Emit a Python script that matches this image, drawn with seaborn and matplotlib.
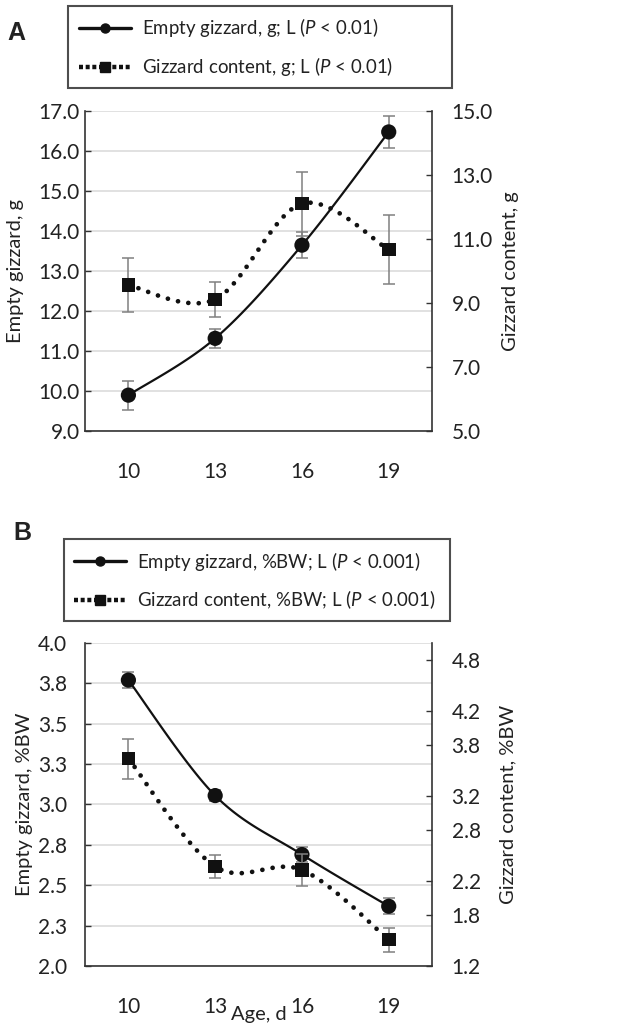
import numpy as np
import matplotlib
matplotlib.use("Agg")
import matplotlib.pyplot as plt
import seaborn as sns
from matplotlib.lines import Line2D

# datos (edad en dias)
ages = ["10", "13", "16", "19"]

# Panel A: gramos
empty_g = [9.90, 11.32, 13.65, 16.48]
empty_g_se = [0.36, 0.24, 0.33, 0.39]
content_g = [9.56, 9.12, 12.11, 10.67]
content_g_se = [0.84, 0.55, 1.00, 1.08]

# Panel B: % del peso corporal
empty_bw = [3.77, 3.055, 2.69, 2.37]
empty_bw_se = [0.05, 0.035, 0.045, 0.05]
content_bw = [3.64, 2.37, 2.33, 1.51]
content_bw_se = [0.235, 0.135, 0.185, 0.14]

# ejes
a_left_ticks = [9, 10, 11, 12, 13, 14, 15, 16, 17]
a_right_ticks = [5, 7, 9, 11, 13, 15]
b_left_ticks = [2.0, 2.25, 2.5, 2.75, 3.0, 3.25, 3.5, 3.75, 4.0]
b_left_labels = ["2.0", "2.3", "2.5", "2.8", "3.0", "3.3", "3.5", "3.8", "4.0"]
b_right_ticks = [1.2, 1.8, 2.2, 2.8, 3.2, 3.8, 4.2, 4.8]

labels_a = ["Empty gizzard, g; L ($P$ < 0.01)",
            "Gizzard content, g; L ($P$ < 0.01)"]
labels_b = ["Empty gizzard, %BW; L ($P$ < 0.001)",
            "Gizzard content, %BW; L ($P$ < 0.001)"]

sns.set_style("white")
plt.rcParams['font.family'] = ['Lato', 'DejaVu Sans']
plt.rcParams['mathtext.fontset'] = 'custom'
plt.rcParams['mathtext.rm'] = 'Lato'
plt.rcParams['mathtext.it'] = 'Lato:italic'

TXT = '#222222'
GRID = '#d9d9d9'
ERR = '#808080'


def excel_smooth(x, y, n=40):
    # curva suavizada estilo Excel (bezier tipo Catmull-Rom)
    pts = np.column_stack([x, y]).astype(float)
    t = np.linspace(0, 1, n)[:, None]
    out = []
    for i in range(len(pts) - 1):
        p0, p3 = pts[i], pts[i + 1]
        prev = pts[i - 1] if i > 0 else pts[i]
        nxt = pts[i + 2] if i + 2 < len(pts) else pts[i + 1]
        c1 = p0 + (p3 - prev) / 6
        c2 = p3 - (nxt - p0) / 6
        seg = ((1 - t) ** 3) * p0 + 3 * ((1 - t) ** 2) * t * c1 \
            + 3 * (1 - t) * t ** 2 * c2 + t ** 3 * p3
        out.append(seg if i == 0 else seg[1:])
    out = np.vstack(out)
    return out[:, 0], out[:, 1]


def draw_panel(ax, left, left_se, right, right_se, lticks, lticklabels,
               lylim, rticks, rylim, ylab_l, ylab_r, lpad, lab_l_x, lab_r_x):
    x = np.arange(len(ages))
    ax2 = ax.twinx()

    # linea solida (eje izquierdo)
    sx, sy = excel_smooth(x, left)
    sns.lineplot(x=sx, y=sy, ax=ax, color='#111111', lw=1.6, sort=False,
                 estimator=None, zorder=3)
    ax.errorbar(x, left, yerr=left_se, fmt='none', ecolor=ERR,
                elinewidth=1.1, capsize=4.3, capthick=1.1, zorder=2)
    sns.scatterplot(x=x, y=left, ax=ax, marker='o', s=120, color='#111111',
                    edgecolor='none', zorder=4)

    # linea punteada (eje derecho)
    dx, dy = excel_smooth(x, right)
    sns.lineplot(x=dx, y=dy, ax=ax2, color='#111111', lw=3.4, sort=False,
                 estimator=None, linestyle=(0, (0.01, 2.2)),
                 dash_capstyle='round', zorder=3)
    ax2.errorbar(x, right, yerr=right_se, fmt='none', ecolor=ERR,
                 elinewidth=1.1, capsize=4.3, capthick=1.1, zorder=2)
    sns.scatterplot(x=x, y=right, ax=ax2, marker='s', s=95, color='#111111',
                    edgecolor='none', zorder=4)

    ax.set_xlim(-0.5, len(ages) - 0.5)
    ax.set_xticks(x)
    ax.set_xticklabels(ages)
    ax.set_ylim(*lylim)
    ax.set_yticks(lticks)
    ax.set_yticklabels(lticklabels)
    ax2.set_ylim(*rylim)
    ax2.set_yticks(rticks)
    ax2.set_yticklabels([f"{v:.1f}" for v in rticks])

    ax.yaxis.grid(True, color=GRID, lw=1.1)
    ax.xaxis.grid(False)
    ax.set_axisbelow(True)

    ax.tick_params(axis='x', length=0, pad=22, labelsize=15, labelcolor=TXT)
    ax.tick_params(axis='y', direction='in', length=4.3, width=1.0,
                   color='#333333', pad=lpad, labelsize=15, labelcolor=TXT)
    ax2.tick_params(axis='y', direction='in', length=4.3, width=1.0,
                    color='#333333', pad=14, labelsize=15, labelcolor=TXT)

    for s in ['top', 'right']:
        ax.spines[s].set_visible(False)
    for s in ['top', 'left', 'bottom']:
        ax2.spines[s].set_visible(False)
    for sp in [ax.spines['left'], ax.spines['bottom'], ax2.spines['right']]:
        sp.set_color('#333333')
        sp.set_linewidth(1.2)

    ax.set_xlabel('')
    ax.set_ylabel(ylab_l, fontsize=14.5, color=TXT, va='center')
    ax.yaxis.set_label_coords(lab_l_x, 0.5)
    ax2.set_ylabel(ylab_r, fontsize=14.5, color=TXT, va='center',
                   rotation=90)
    ax2.yaxis.set_label_coords(lab_r_x, 0.5)
    return ax2


def legend_handles():
    h1 = Line2D([], [], color='#111111', lw=2.4, marker='o', markersize=6.5)
    h2 = Line2D([], [], color='#111111', lw=3.2, linestyle=(0, (0.9, 0.6)),
                marker='s', markersize=7.5)
    return [h1, h2]


fig = plt.figure(figsize=(6.44, 10.29), dpi=100)

axA = fig.add_axes([0.132, 0.581, 0.539, 0.311])
draw_panel(axA, empty_g, empty_g_se, content_g, content_g_se,
           a_left_ticks, [f"{v:.1f}" for v in a_left_ticks], (9, 17),
           a_right_ticks, (5, 15), "Empty gizzard, g", "Gizzard content, g",
           3.6, -0.199, 1.225)

axB = fig.add_axes([0.132, 0.0612, 0.539, 0.314])
draw_panel(axB, empty_bw, empty_bw_se, content_bw, content_bw_se,
           b_left_ticks, b_left_labels, (2.0, 4.0),
           b_right_ticks, (1.2, 5.0), "Empty gizzard, %BW",
           "Gizzard content, %BW", 13, -0.173, 1.219)
axB.set_xlabel("Age, d", fontsize=14.5, color=TXT, va='top')
axB.xaxis.set_label_coords(0.5, -0.125)

for labs, box in [(labels_a, (0.106, 0.914, 0.596, 0.080)),
                  (labels_b, (0.099, 0.397, 0.600, 0.078))]:
    leg = fig.legend(legend_handles(), labs, loc='center',
                     bbox_to_anchor=box, mode='expand', frameon=True,
                     fancybox=False, borderaxespad=0, fontsize=13.4,
                     handlelength=2.8, handletextpad=0.6, labelspacing=0.85,
                     borderpad=0.55)
    leg.get_frame().set_edgecolor('#222222')
    leg.get_frame().set_linewidth(1.5)
    for t in leg.get_texts():
        t.set_color(TXT)

fig.text(0.012, 0.968, "A", fontsize=18, fontweight='bold',
         family='Liberation Sans', color=TXT, va='center')
fig.text(0.020, 0.482, "B", fontsize=18, fontweight='bold',
         family='Liberation Sans', color=TXT, va='center')

fig.savefig('out.png', dpi=100)
